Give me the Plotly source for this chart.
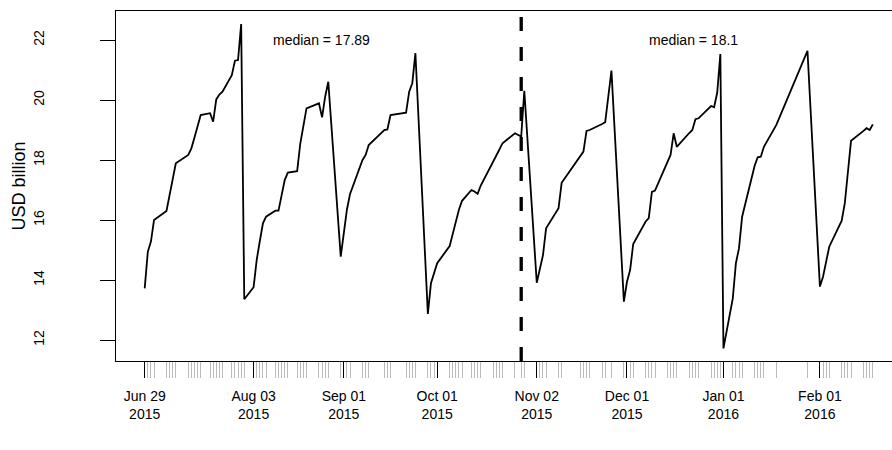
import numpy as np
import plotly.graph_objects as go

# Daily observations (USD billion)
dates = [
    "2015-06-29", "2015-06-30", "2015-07-01", "2015-07-02",
    "2015-07-06", "2015-07-07", "2015-07-08", "2015-07-09",
    "2015-07-13", "2015-07-14", "2015-07-15", "2015-07-16", "2015-07-17",
    "2015-07-20", "2015-07-21", "2015-07-22", "2015-07-23", "2015-07-24",
    "2015-07-27", "2015-07-28", "2015-07-29", "2015-07-30", "2015-07-31",
    "2015-08-03", "2015-08-04", "2015-08-05", "2015-08-06", "2015-08-07",
    "2015-08-10", "2015-08-11", "2015-08-12", "2015-08-13", "2015-08-14",
    "2015-08-17", "2015-08-18", "2015-08-19", "2015-08-20",
    "2015-08-24", "2015-08-25", "2015-08-26", "2015-08-27",
    "2015-08-31", "2015-09-01", "2015-09-02", "2015-09-03",
    "2015-09-07", "2015-09-08", "2015-09-09",
    "2015-09-14", "2015-09-15", "2015-09-16",
    "2015-09-21", "2015-09-22", "2015-09-23", "2015-09-24",
    "2015-09-28", "2015-09-29", "2015-09-30", "2015-10-01",
    "2015-10-05", "2015-10-06", "2015-10-07", "2015-10-08", "2015-10-09",
    "2015-10-12", "2015-10-13", "2015-10-14", "2015-10-15",
    "2015-10-19", "2015-10-20", "2015-10-21", "2015-10-22",
    "2015-10-26", "2015-10-28", "2015-10-29",
    "2015-11-02", "2015-11-03", "2015-11-04", "2015-11-05",
    "2015-11-09", "2015-11-10",
    "2015-11-16", "2015-11-17", "2015-11-18", "2015-11-19",
    "2015-11-23", "2015-11-24", "2015-11-26",
    "2015-11-30", "2015-12-01", "2015-12-02", "2015-12-03",
    "2015-12-07", "2015-12-08", "2015-12-09", "2015-12-10",
    "2015-12-14", "2015-12-15", "2015-12-16", "2015-12-17",
    "2015-12-21", "2015-12-22", "2015-12-23", "2015-12-24",
    "2015-12-28", "2015-12-29", "2015-12-30", "2015-12-31", "2016-01-01",
    "2016-01-04", "2016-01-05", "2016-01-06", "2016-01-07",
    "2016-01-11", "2016-01-12", "2016-01-13", "2016-01-14",
    "2016-01-18", "2016-01-28",
    "2016-02-01", "2016-02-02", "2016-02-03", "2016-02-04",
    "2016-02-08", "2016-02-09", "2016-02-10", "2016-02-11",
    "2016-02-15", "2016-02-16", "2016-02-17", "2016-02-18",
]

usd_bn = [
    13.72, 14.94, 15.28, 16.00,
    16.30, 16.85, 17.40, 17.89,
    18.17, 18.39, 18.75, 19.15, 19.50,
    19.56, 19.28, 20.02, 20.18, 20.28,
    20.83, 21.31, 21.33, 22.53, 13.36,
    13.76, 14.67, 15.30, 15.89, 16.11,
    16.31, 16.31, 16.85, 17.33, 17.58,
    17.63, 18.55, 19.20, 19.72,
    19.89, 19.42, 20.11, 20.61,
    14.78, 15.60, 16.35, 16.87,
    18.00, 18.17, 18.50,
    19.00, 19.02, 19.50,
    19.58, 20.28, 20.56, 21.56,
    12.87, 13.89, 14.25, 14.56,
    15.13, 15.55, 16.00, 16.35, 16.64,
    17.00, 16.95, 16.87, 17.15,
    17.93, 18.11, 18.35, 18.56,
    18.89, 18.78, 20.31,
    13.91, 14.35, 14.83, 15.72,
    16.39, 17.24,
    18.11, 18.28, 18.97, 19.00,
    19.20, 19.26, 20.98,
    13.28, 13.94, 14.33, 15.20,
    15.95, 16.06, 16.94, 16.98,
    17.95, 18.17, 18.89, 18.44,
    18.90, 19.00, 19.36, 19.39,
    19.80, 19.76, 20.25, 21.53, 11.72,
    13.39, 14.56, 15.06, 16.11,
    17.80, 18.09, 18.11, 18.44,
    19.17, 21.64,
    13.78, 14.11, 14.60, 15.11,
    15.98, 16.56, 17.60, 18.64,
    18.97, 19.06, 19.00, 19.19,
]

# Period split and labelled ticks
split_date = "2015-10-28"
major_ticks = ["2015-06-29", "2015-07-01", "2015-08-03", "2015-09-01", "2015-10-01",
               "2015-11-02", "2015-12-01", "2016-01-01", "2016-02-01", "2016-02-18"]
major_text = ["Jun 29<br>2015", "", "Aug 03<br>2015", "Sep 01<br>2015", "Oct 01<br>2015",
              "Nov 02<br>2015", "Dec 01<br>2015", "Jan 01<br>2016", "Feb 01<br>2016", ""]
y_ticks = [12, 14, 16, 18, 20, 22]

before = [v for d, v in zip(dates, usd_bn) if d < split_date]
after = [v for d, v in zip(dates, usd_bn) if d >= split_date]
med_before = round(float(np.median(before)), 2)
med_after = round(float(np.median(after)), 2)

FONT = "Liberation Sans, Arial, Helvetica, sans-serif"

fig = go.Figure()
fig.add_trace(go.Scatter(
    x=dates, y=usd_bn, mode="lines",
    line=dict(color="black", width=1.8),
    showlegend=False, hoverinfo="x+y",
))

fig.add_shape(type="line", xref="x", yref="paper",
              x0=split_date, x1=split_date, y0=0, y1=1,
              line=dict(color="black", width=3.3, dash="14px,16px"))

fig.add_annotation(x="2015-08-24 19:00", y=22.0, xref="x", yref="y",
                   text=f"median = {med_before:g}", showarrow=False,
                   font=dict(size=14, color="black", family=FONT))
fig.add_annotation(x="2015-12-22 12:00", y=22.0, xref="x", yref="y",
                   text=f"median = {med_after:g}", showarrow=False,
                   font=dict(size=14, color="black", family=FONT))

fig.update_layout(
    width=892, height=450,
    margin=dict(l=116, r=0, t=11, b=89),
    paper_bgcolor="white", plot_bgcolor="white",
    font=dict(family=FONT, size=14, color="black"),
    showlegend=False,
    xaxis=dict(
        type="date",
        range=["2015-06-19 18:40", "2016-02-24 04:00"],
        showgrid=False, zeroline=False,
        showline=True, linecolor="black", linewidth=1.3, mirror=True,
        tickmode="array", tickvals=major_ticks, ticktext=major_text,
        ticks="outside", ticklen=16, tickwidth=1.4, tickcolor="black",
        ticklabelstandoff=6,
        minor=dict(tickmode="array", tickvals=dates, ticks="outside",
                   ticklen=16, tickwidth=1, tickcolor="#BBBBBB", showgrid=False),
        tickfont=dict(size=14, color="black"),
    ),
    yaxis=dict(
        range=[11.3, 22.967],
        showgrid=False, zeroline=False,
        showline=True, linecolor="black", linewidth=1.3, mirror=False,
        tickmode="array", tickvals=y_ticks,
        ticks="outside", ticklen=15, tickwidth=1.3, tickcolor="black",
        tickangle=-90, ticklabelstandoff=50,
        tickfont=dict(size=14, color="black"),
        title=dict(text="USD billion", font=dict(size=18, color="black"), standoff=0),
    ),
)

fig.write_html("out.html")
